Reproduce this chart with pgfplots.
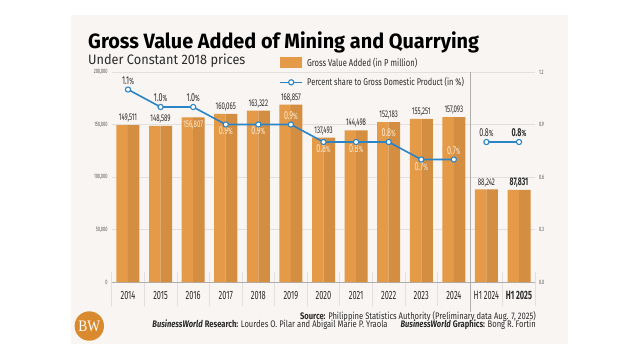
\documentclass[border=0pt]{standalone}
\usepackage{pgfplots}
\pgfplotsset{compat=1.18}
\usepackage{fontspec}
\setmainfont{Fira Sans}
\newfontfamily\cond[FakeStretch=0.62]{Fira Sans}
\newfontfamily\condl[FakeStretch=0.76]{Fira Sans}
\newfontfamily\condf[FakeStretch=0.8]{Fira Sans}
\newfontfamily\titlefont[FakeStretch=0.96]{Fira Sans}
\newfontfamily\subfont[FakeStretch=0.93]{Fira Sans}
\newfontfamily\bwfont[FakeStretch=0.85]{Liberation Serif}
\definecolor{bg}{HTML}{F8F5F3}
\definecolor{barL}{HTML}{E49A47}
\definecolor{barR}{HTML}{D48E42}
\definecolor{lblue}{HTML}{2A84C6}
\definecolor{gridc}{HTML}{E3DFDC}
\definecolor{axc}{HTML}{B0ACA9}
\definecolor{txt}{HTML}{2B2B2B}
\definecolor{tickc}{HTML}{555555}
\definecolor{cream}{HTML}{FCEBD6}
\definecolor{logo}{HTML}{DA8A2E}
\pgfplotstableread{
x val
0 149511
1 148589
2 156807
3 160065
4 163322
5 168857
6 137493
7 144498
8 152183
9 155251
10 157093
11 88242
12 87831
}\gva
\pgfplotstableread{
x pct
0 1.1
1 1.0
2 1.0
3 0.9
4 0.9
5 0.9
6 0.8
7 0.8
8 0.8
9 0.7
10 0.7
}\pctA
\pgfplotstableread{
x pct
11 0.8
12 0.8
}\pctB
\newcommand\vl[1]{{\cond\fontsize{9.8}{10}\selectfont #1}}
\newcommand\pl[1]{{\cond\fontsize{11.5}{12}\selectfont #1{\fontsize{9}{9}\selectfont\%}}}
\begin{document}
\begin{tikzpicture}[x=1pt,y=1pt]
\fill[white] (0,0) rectangle (640,360);
\fill[bg] (71,16) rectangle (568,345);
% title
\node[anchor=base west,inner sep=0,text depth=2pt,text=black] at (88,311.7) {\titlefont\bfseries\fontsize{20.7}{22}\selectfont Gross Value Added of Mining and Quarrying};
\node[anchor=base west,inner sep=0,text height=9.6pt,text=txt] at (88,295.8) {\subfont\fontsize{13.7}{15}\selectfont Under Constant 2018 prices};
% legend
\fill[barL] (280,292) rectangle (302,303);
\node[anchor=west,inner sep=0,text=txt] at (307,297.5) {\condl\fontsize{10}{11}\selectfont Gross Value Added (in P million)};
\draw[lblue,line width=1.6pt] (280,277.7) -- (302,277.7);
\draw[lblue,line width=1.1pt,fill=white] (291.2,277.7) circle (2.6);
\node[anchor=west,inner sep=0,text=txt] at (307,277.7) {\condl\fontsize{9.7}{11}\selectfont Percent share to Gross Domestic Product (in \%)};
% category separators
\foreach \k in {0,...,13}{\draw[gridc,line width=0.6pt] (111.7+32.585*\k,88) -- (111.7+32.585*\k,54);}
% footer
\node[anchor=base east,inner sep=0,text=txt] at (536,41) {\condf\fontsize{9.5}{10}\selectfont\textbf{Source:} Philippine Statistics Authority (Preliminary data Aug. 7, 2025)};
\node[anchor=base east,inner sep=0,text=txt] at (536,32.3) {\condf\fontsize{9.5}{10}\selectfont\textbf{\textit{BusinessWorld}} \textbf{Research:} Lourdes O. Pilar and Abigail Marie P. Yraola\hspace{13pt}\textbf{\textit{BusinessWorld}} \textbf{Graphics:} Bong R. Fortin};
\fill[logo] (89.3,34) circle (14.7);
\node[text=white,inner sep=0] at (89.3,33.5) {\bwfont\fontsize{16}{16}\selectfont BW};
\begin{axis}[
  at={(111.7pt,78pt)}, anchor=south west, scale only axis,
  width=423.6pt, height=210pt,
  xmin=-0.5, xmax=12.5, ymin=0, ymax=200000,
  scaled y ticks=false,
  axis x line*=bottom, axis y line*=left,
  y axis line style={draw=none},
  x axis line style={axc,line width=0.8pt},
  ytick={0,50000,100000,150000,200000},
  yticklabels={0,{50,000},{100,000},{150,000},{200,000}},
  xtick={0,...,12},
  xticklabels={2014,2015,2016,2017,2018,2019,2020,2021,2022,2023,2024,H1 2024,\textbf{H1 2025}},
  major tick length=0,
  ymajorgrids, grid style={gridc,line width=0.6pt},
  yticklabel style={font=\cond\fontsize{6.3}{7}\selectfont,text=tickc,inner sep=0pt,xshift=-4pt},
  xticklabel style={font=\cond\fontsize{12}{13}\selectfont,text=txt,inner sep=0pt,yshift=-8.7pt},
  clip=false,
]
\addplot[ybar,bar width=0.353,bar shift=-0.1765,draw=none,fill=barL] table[x=x,y=val]{\gva};
\addplot[ybar,bar width=0.353,bar shift=0.1765,draw=none,fill=barR] table[x=x,y=val]{\gva};
\draw[axc,line width=0.8pt] (axis cs:10.5,200000) -- (axis cs:10.5,0) -- ++(0pt,-30pt);
\begin{scope}[every node/.style={anchor=south,inner sep=0,yshift=2.5pt,text=txt}]
\node at (axis cs:0,149511) {\vl{149,511}};
\node at (axis cs:1,148589) {\vl{148,589}};
\node[anchor=north,yshift=-6pt,text=cream] at (axis cs:2,156807) {\vl{156,807}};
\node at (axis cs:3,160065) {\vl{160,065}};
\node at (axis cs:4,163322) {\vl{163,322}};
\node at (axis cs:5,168857) {\vl{168,857}};
\node at (axis cs:6,137493) {\vl{137,493}};
\node at (axis cs:7,144498) {\vl{144,498}};
\node at (axis cs:8,152183) {\vl{152,183}};
\node at (axis cs:9,155251) {\vl{155,251}};
\node at (axis cs:10,157093) {\vl{157,093}};
\node at (axis cs:11,88242) {\vl{88,242}};
\node at (axis cs:12,87831) {{\cond\bfseries\fontsize{11}{12}\selectfont 87,831}};
\end{scope}
\end{axis}
\begin{axis}[
  at={(111.7pt,78pt)}, anchor=south west, scale only axis,
  width=423.6pt, height=210pt,
  xmin=-0.5, xmax=12.5, ymin=0, ymax=1.2,
  scaled y ticks=false,
  axis x line=none, axis y line*=right,
  y axis line style={draw=none},
  ytick={0,0.3,0.6,0.9,1.2},
  yticklabels={0.0,0.3,0.6,0.9,1.2},
  major tick length=0,
  yticklabel style={font=\cond\fontsize{6.3}{7}\selectfont,text=tickc,inner sep=0pt,xshift=3.5pt},
  clip=false,
]
\addplot[lblue,line width=1.6pt,mark=*,mark size=2.6pt,mark options={fill=white,draw=lblue,line width=1.1pt}] table[x=x,y=pct]{\pctA};
\addplot[lblue,line width=1.6pt,mark=*,mark size=2.6pt,mark options={fill=white,draw=lblue,line width=1.1pt}] table[x=x,y=pct]{\pctB};
\begin{scope}[every node/.style={anchor=south,inner sep=0,yshift=5pt,text=txt}]
\node at (axis cs:0,1.1) {\pl{1.1}};
\node at (axis cs:1,1.0) {\pl{1.0}};
\node at (axis cs:2,1.0) {\pl{1.0}};
\node[anchor=north,yshift=-7pt,text=cream] at (axis cs:3,0.9) {\pl{0.9}};
\node[anchor=north,yshift=-7pt,text=cream] at (axis cs:4,0.9) {\pl{0.9}};
\node[text=cream] at (axis cs:5,0.9) {\pl{0.9}};
\node[anchor=north,yshift=-7.5pt,text=cream] at (axis cs:6,0.8) {\pl{0.8}};
\node[anchor=north,yshift=-7.5pt,text=cream] at (axis cs:7,0.8) {\pl{0.8}};
\node[text=cream] at (axis cs:8,0.8) {\pl{0.8}};
\node[anchor=north,yshift=-7.5pt,text=cream] at (axis cs:9,0.7) {\pl{0.7}};
\node[text=cream] at (axis cs:10,0.7) {\pl{0.7}};
\node at (axis cs:11,0.8) {\pl{0.8}};
\node at (axis cs:12,0.8) {{\bfseries\pl{0.8}}};
\end{scope}
\end{axis}
\end{tikzpicture}
\end{document}
